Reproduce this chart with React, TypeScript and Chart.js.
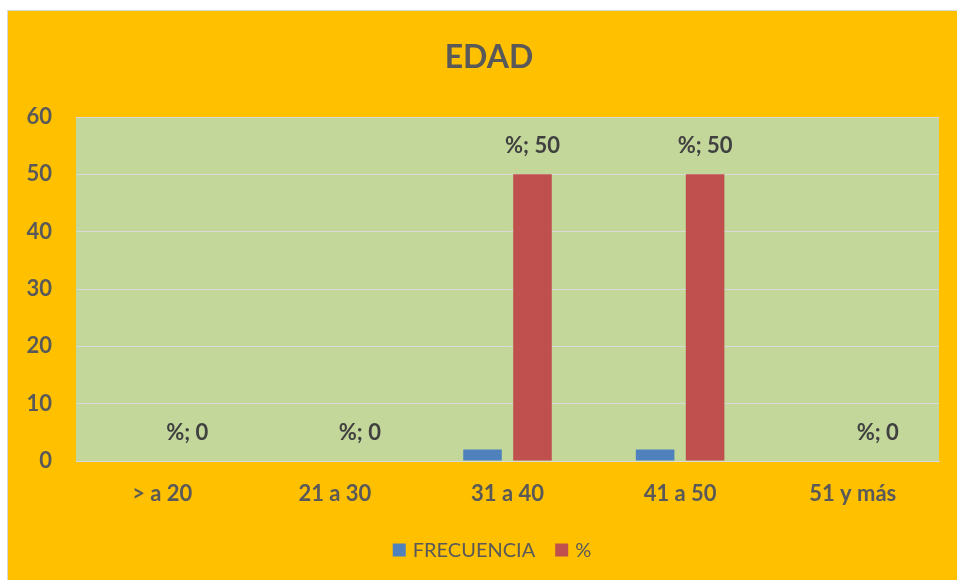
import React, { useEffect, useRef } from "react";
import { Chart, registerables } from "chart.js";

Chart.register(...registerables);

const categories = ["> a 20", "21 a 30", "31 a 40", "41 a 50", "51 y más"];
const frecuencia = [0, 0, 2, 2, 0];
const porcentaje = [0, 0, 50, 50, 0];
const yTicks = [0, 10, 20, 30, 40, 50, 60];
const titleText = "EDAD";

const FONT = "Lato, 'Open Sans', sans-serif";
const BLUE = "#4F81BD";
const RED = "#C0504D";

const plotBg = {
  id: "plotBg",
  beforeDraw(chart: any) {
    const { ctx, chartArea } = chart;
    ctx.save();
    ctx.fillStyle = "#C4D79B";
    ctx.fillRect(chartArea.left, chartArea.top, chartArea.right - chartArea.left, chartArea.bottom - chartArea.top);
    ctx.restore();
  },
};

const valueLabels = {
  id: "valueLabels",
  afterDatasetsDraw(chart: any) {
    const { ctx } = chart;
    const meta = chart.getDatasetMeta(1);
    const ds = chart.data.datasets[1];
    ctx.save();
    ctx.font = `bold 22px ${FONT}`;
    ctx.fillStyle = "#404040";
    ctx.textAlign = "center";
    ctx.textBaseline = "middle";
    meta.data.forEach((bar: any, i: number) => {
      ctx.fillText(`${ds.label}; ${ds.data[i]}`, bar.x, bar.y - 28);
    });
    ctx.restore();
  },
};

const titleAndLegend = {
  id: "titleAndLegend",
  afterDraw(chart: any) {
    const { ctx } = chart;
    const cx = 481;
    ctx.save();
    ctx.font = `bold 32px ${FONT}`;
    ctx.fillStyle = "#595959";
    ctx.textAlign = "center";
    ctx.textBaseline = "middle";
    ctx.fillText(titleText, cx, 47);

    // legend
    const dsets = chart.data.datasets;
    ctx.font = `20px ${FONT}`;
    const box = 13;
    const gapText = 7;
    const gapItem = 20;
    const widths = dsets.map((d: any) => ctx.measureText(d.label).width);
    let total = 0;
    widths.forEach((w: number, i: number) => {
      total += box + gapText + w + (i < widths.length - 1 ? gapItem : 0);
    });
    let x = 484 - total / 2;
    const y = 539;
    ctx.textAlign = "left";
    dsets.forEach((d: any, i: number) => {
      ctx.fillStyle = d.backgroundColor;
      ctx.fillRect(x, y - box / 2, box, box);
      x += box + gapText;
      ctx.fillStyle = "#595959";
      ctx.fillText(d.label, x, y + 1);
      x += widths[i] + gapItem;
    });
    ctx.restore();
  },
};

export default function App() {
  const ref = useRef<HTMLCanvasElement | null>(null);

  useEffect(() => {
    document.body.style.margin = "0";
    const chart = new Chart(ref.current!, {
      type: "bar",
      data: {
        labels: categories,
        datasets: [
          { label: "FRECUENCIA", data: frecuencia, backgroundColor: BLUE, categoryPercentage: 0.579, barPercentage: 0.772 },
          { label: "%", data: porcentaje, backgroundColor: RED, categoryPercentage: 0.579, barPercentage: 0.772 },
        ],
      },
      options: {
        responsive: false,
        animation: false,
        layout: { padding: { left: 0, right: 31, top: 106, bottom: 52.6 } },
        plugins: {
          title: { display: false },
          legend: { display: false },
          tooltip: { enabled: false },
        },
        scales: {
          x: {
            grid: { display: false, drawTicks: false },
            border: { display: true, color: "#D9D9D9" },
            ticks: { color: "#595959", font: { family: FONT, size: 22, weight: "bold" }, padding: 20 },
          },
          y: {
            min: 0,
            max: 60,
            afterBuildTicks: (s: any) => { s.ticks = yTicks.map((v) => ({ value: v })); },
            afterFit: (s: any) => { s.width = 68; },
            grid: { color: "#D9D9D9", drawTicks: false },
            border: { display: false },
            ticks: { color: "#595959", font: { family: FONT, size: 22, weight: "bold" }, padding: 24 },
          },
        },
      },
      plugins: [plotBg, valueLabels, titleAndLegend],
    });
    return () => chart.destroy();
  }, []);

  return (
    <div style={{ position: "relative", width: 957, height: 580, background: "#fff", overflow: "hidden" }}>
      <div
        style={{
          position: "absolute",
          left: 7,
          top: 10,
          width: 970,
          height: 590,
          borderLeft: "1px solid #D9D9D9",
          borderTop: "1px solid #D9D9D9",
          background: "#FFC000",
        }}
      >
        <canvas ref={ref} width={962} height={569} style={{ display: "block" }} />
      </div>
    </div>
  );
}
